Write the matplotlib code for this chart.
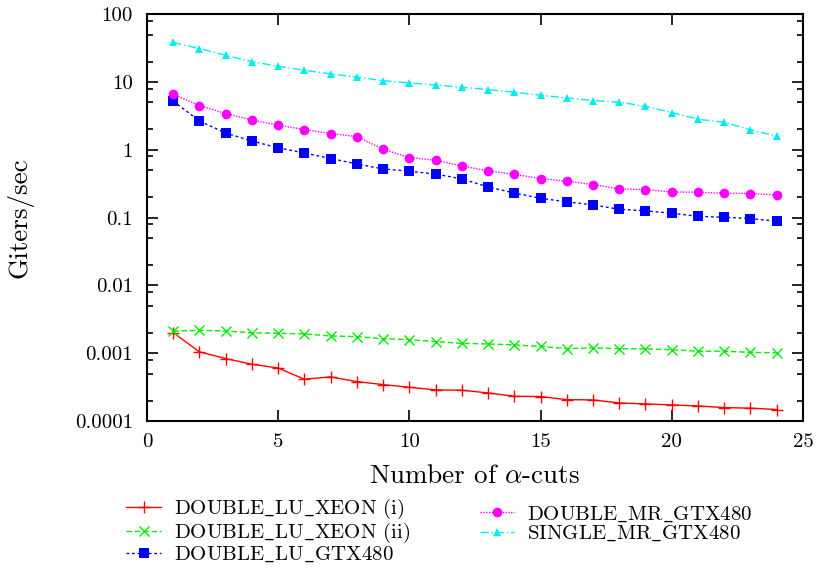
import matplotlib
matplotlib.use("Agg")
import matplotlib.pyplot as plt
from matplotlib.ticker import LogLocator, FixedLocator, FixedFormatter, NullFormatter

plt.rcParams['font.family'] = 'serif'
plt.rcParams['font.serif'] = ['cmr10', 'DejaVu Serif']
plt.rcParams['mathtext.fontset'] = 'cm'
plt.rcParams['axes.unicode_minus'] = False

cuts = list(range(1, 25))

xeon_i = [0.00202, 0.00105, 0.000835, 0.000689, 0.000607, 0.000414, 0.000448, 0.000382,
          0.000345, 0.000315, 0.000288, 0.000285, 0.000260, 0.000232, 0.000230, 0.000207,
          0.000205, 0.000185, 0.000179, 0.000173, 0.000167, 0.000158, 0.000155, 0.000148]
xeon_ii = [0.00211, 0.00218, 0.00213, 0.00200, 0.00197, 0.00193, 0.00180, 0.00176,
           0.00164, 0.00159, 0.00149, 0.00140, 0.00137, 0.00133, 0.00126, 0.00117,
           0.00120, 0.00117, 0.00116, 0.00113, 0.00107, 0.00107, 0.00103, 0.00102]
lu_gtx = [5.26, 2.67, 1.77, 1.35, 1.07, 0.90, 0.744, 0.62, 0.523, 0.483, 0.441, 0.372,
          0.284, 0.231, 0.193, 0.171, 0.154, 0.133, 0.126, 0.116, 0.105, 0.101, 0.097, 0.0886]
mr_gtx = [6.6, 4.50, 3.43, 2.76, 2.31, 1.99, 1.74, 1.57, 1.02, 0.77, 0.703, 0.58,
          0.489, 0.436, 0.377, 0.344, 0.308, 0.265, 0.259, 0.239, 0.237, 0.229, 0.227, 0.216]
single_mr = [38.3, 31.2, 24.8, 20.0, 17.1, 14.9, 13.2, 11.8, 10.5, 9.7, 9.06, 8.37,
             7.74, 7.08, 6.39, 5.83, 5.33, 5.04, 4.40, 3.55, 2.83, 2.55, 1.97, 1.59]

labels = [r'$\mathrm{DOUBLE\_LU\_XEON}$ (i)',
          r'$\mathrm{DOUBLE\_LU\_XEON}$ (ii)',
          r'$\mathrm{DOUBLE\_LU\_GTX480}$',
          r'$\mathrm{DOUBLE\_MR\_GTX480}$',
          r'$\mathrm{SINGLE\_MR\_GTX480}$']

ytick_vals = [0.0001, 0.001, 0.01, 0.1, 1, 10, 100]
ytick_labels = ['0.0001', '0.001', '0.01', '0.1', '1', '10', '100']
xtick_vals = [0, 5, 10, 15, 20, 25]

fig = plt.figure(figsize=(8.16, 5.69), dpi=100)
ax = fig.add_axes([0.180, 0.260, 0.804, 0.715])

h1, = ax.plot(cuts, xeon_i, color='#ff0000', lw=1.0, ls='-', marker='+', ms=8, mew=1.0)
h2, = ax.plot(cuts, xeon_ii, color='#00ee00', lw=1.0, ls=(0, (4, 2)), marker='x', ms=7, mew=1.0)
h3, = ax.plot(cuts, lu_gtx, color='#0000ff', lw=1.0, ls=(0, (2, 2)), marker='s', ms=7, mew=0)
h4, = ax.plot(cuts, mr_gtx, color='#ff00ff', lw=1.0, ls=(0, (1, 1)), marker='o', ms=7, mew=0)
h5, = ax.plot(cuts, single_mr, color='#00eeee', lw=1.0, ls=(0, (6, 2, 1, 2)), marker='^', ms=6, mew=0)

ax.set_yscale('log')
ax.set_ylim(0.0001, 100)
ax.set_xlim(0, 25)
ax.yaxis.set_major_locator(FixedLocator(ytick_vals))
ax.yaxis.set_major_formatter(FixedFormatter(ytick_labels))
ax.yaxis.set_minor_locator(LogLocator(base=10, subs=(2, 5, 8)))
ax.yaxis.set_minor_formatter(NullFormatter())
ax.set_xticks(xtick_vals)
ax.set_xticklabels([str(v) for v in xtick_vals])

ax.tick_params(which='both', direction='in', top=True, right=True, labelsize=15, width=1.2)
ax.tick_params(which='major', length=8)
ax.tick_params(which='minor', length=4)
ax.tick_params(axis='x', which='major', pad=9)
ax.tick_params(axis='y', which='major', pad=10)
for s in ax.spines.values():
    s.set_linewidth(1.5)

ax.set_ylabel('Giters/sec', fontsize=19.5, labelpad=30)
ax.set_xlabel(r'Number of $\alpha$-cuts', fontsize=19.5, labelpad=9)

common = dict(loc='upper left', frameon=False, fontsize=15, handlelength=1.65,
              handletextpad=0.62, labelspacing=0.0, borderaxespad=0, borderpad=0)
leg1 = fig.legend([h1, h2, h3], labels[:3], bbox_to_anchor=(0.155, 0.127), **common)
leg2 = fig.legend([h4, h5], labels[3:], bbox_to_anchor=(0.588, 0.114), **common)

fig.savefig('out.png', dpi=100)
